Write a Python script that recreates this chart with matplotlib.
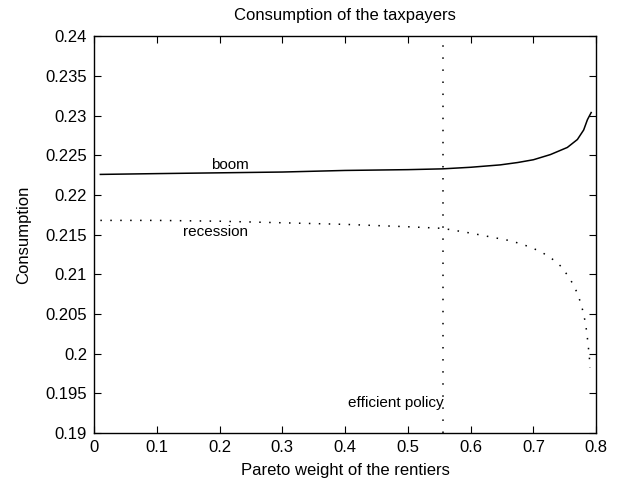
import numpy as np
import matplotlib
matplotlib.use("Agg")
import matplotlib.pyplot as plt

plt.rcParams['font.family'] = ['Liberation Sans', 'DejaVu Sans']

# Pareto weight of the rentiers (x) and consumption of the taxpayers
x_boom = [0.01, 0.1, 0.2, 0.3, 0.4, 0.5, 0.555, 0.6, 0.647, 0.675, 0.7,
          0.727, 0.754, 0.77, 0.78, 0.786, 0.792]
boom = [0.2226, 0.2227, 0.2228, 0.2229, 0.2231, 0.2232, 0.2233, 0.2235,
        0.2238, 0.2241, 0.22445, 0.2251, 0.2260, 0.2270, 0.2282, 0.2295, 0.2304]

x_rec = [0.01, 0.1, 0.2, 0.3, 0.4, 0.5, 0.555, 0.6, 0.659, 0.678, 0.696,
         0.713, 0.729, 0.744, 0.756, 0.765, 0.772, 0.778, 0.782, 0.785,
         0.787, 0.789, 0.790]
recession = [0.2168, 0.2168, 0.2167, 0.2165, 0.2163, 0.2160, 0.2158, 0.2152,
             0.2143, 0.2139, 0.2134, 0.2128, 0.2120, 0.2110, 0.2097, 0.2085,
             0.2072, 0.2056, 0.2042, 0.2027, 0.2012, 0.1997, 0.1982]

efficient_x = 0.5556

xticks = [0, 0.1, 0.2, 0.3, 0.4, 0.5, 0.6, 0.7, 0.8]
xticklabels = ["0", "0.1", "0.2", "0.3", "0.4", "0.5", "0.6", "0.7", "0.8"]
yticks = [0.19, 0.195, 0.2, 0.205, 0.21, 0.215, 0.22, 0.225, 0.23, 0.235, 0.24]
yticklabels = ["0.19", "0.195", "0.2", "0.205", "0.21", "0.215", "0.22",
               "0.225", "0.23", "0.235", "0.24"]

fig = plt.figure(figsize=(6.23, 4.92), dpi=100)
ax = fig.add_axes([0.151, 0.12, 0.806, 0.806])

ax.plot(x_boom, boom, color='black', lw=1.1)
ax.plot(x_rec, recession, color='black', lw=1.1, linestyle=(0, (1, 5.5)))
ax.plot([efficient_x, efficient_x], [0.19, 0.24], color='black', lw=1.1,
        linestyle=(0, (1, 6.9)))

ax.text(0.217, 0.2238, "boom", ha='center', va='center', fontsize=11)
ax.text(0.193, 0.2154, "recession", ha='center', va='center', fontsize=11)
ax.text(0.557, 0.19375, "efficient policy", ha='right', va='center', fontsize=11)

ax.set_xlim(0, 0.8)
ax.set_ylim(0.19, 0.24)
ax.set_xticks(xticks)
ax.set_xticklabels(xticklabels)
ax.set_yticks(yticks)
ax.set_yticklabels(yticklabels)
ax.tick_params(direction='in', top=True, right=True, length=5, labelsize=12, pad=5)
for s in ax.spines.values():
    s.set_linewidth(1.0)

ax.set_title("Consumption of the taxpayers", fontsize=12, pad=12)
ax.set_xlabel("Pareto weight of the rentiers", fontsize=12, labelpad=6)
ax.set_ylabel("Consumption", fontsize=12, labelpad=10)

fig.savefig("out.png", dpi=100)
